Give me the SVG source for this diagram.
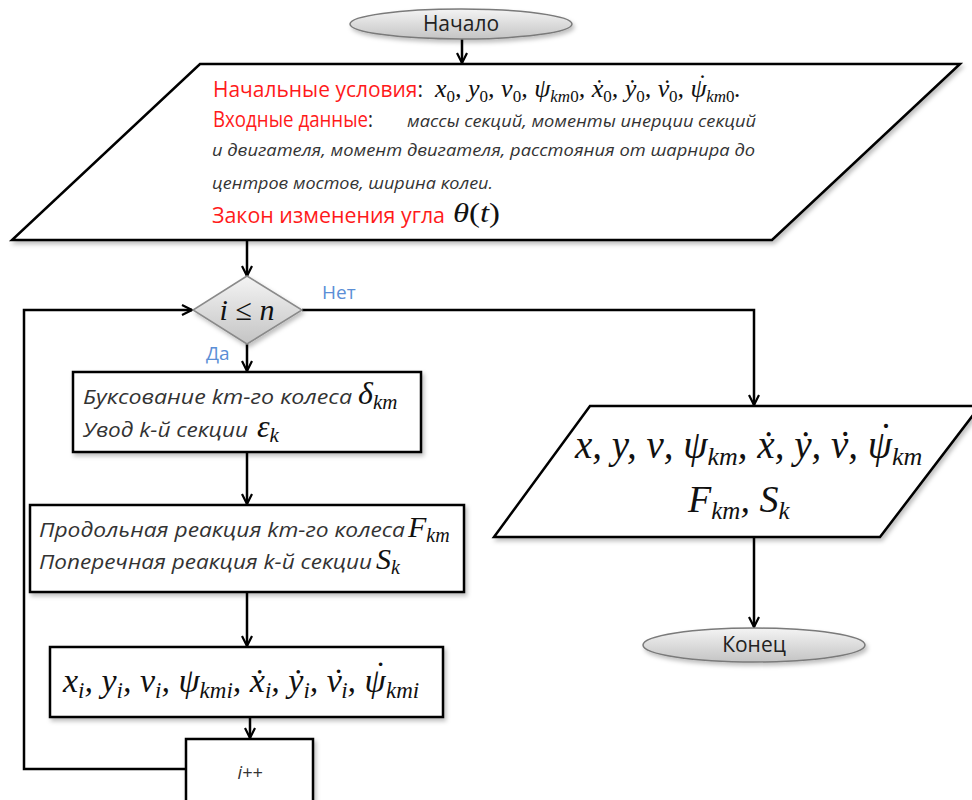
<svg xmlns="http://www.w3.org/2000/svg" width="972" height="800" viewBox="0 0 972 800">
<style>
.ln{fill:none;stroke:#000;stroke-width:2.5}
.bx{fill:#fff;stroke:#000;stroke-width:2.5}
.sans{font-family:"Open Sans","Liberation Sans",sans-serif}
.it{font-family:"Open Sans","Liberation Sans",sans-serif;font-style:italic;fill:#333}
.red{font-family:"Open Sans","Liberation Sans",sans-serif;fill:#ff1a1a}
.m{font-family:"Liberation Serif","DejaVu Serif",serif;font-style:italic;fill:#111}
.d{font-style:normal}
.lbl{font-family:"Open Sans","Liberation Sans",sans-serif;fill:#5b8ed6;font-size:19px}
</style>
<defs>
<marker id="arr" viewBox="0 0 12 12" refX="11" refY="6" markerWidth="12" markerHeight="12" markerUnits="userSpaceOnUse" orient="auto">
<path d="M1,1 L11,6 L1,11" fill="none" stroke="#000" stroke-width="2.2"/>
</marker>
<linearGradient id="gg" x1="0" y1="0" x2="0" y2="1">
<stop offset="0" stop-color="#f4f4f4"/>
<stop offset="1" stop-color="#c4c4c4"/>
</linearGradient>
<filter id="sh" x="-10%" y="-10%" width="130%" height="140%">
<feDropShadow dx="2" dy="3" stdDeviation="2" flood-color="#000" flood-opacity="0.25"/>
</filter>
</defs>

<g id="connectors">
<line class="ln" x1="462" y1="39" x2="462" y2="63" marker-end="url(#arr)"/>
<line class="ln" x1="247" y1="240" x2="247" y2="276" marker-end="url(#arr)"/>
<polyline class="ln" points="302,310 754,310 754,405" marker-end="url(#arr)"/>
<line class="ln" x1="247" y1="344" x2="247" y2="371" marker-end="url(#arr)"/>
<line class="ln" x1="247" y1="452" x2="247" y2="504" marker-end="url(#arr)"/>
<line class="ln" x1="247" y1="592" x2="247" y2="646" marker-end="url(#arr)"/>
<line class="ln" x1="250" y1="717" x2="250" y2="738" marker-end="url(#arr)"/>
<polyline class="ln" points="186,769 24,769 24,310 192,310" marker-end="url(#arr)"/>
<line class="ln" x1="754" y1="537" x2="754" y2="627" marker-end="url(#arr)"/>
<text class="lbl" x="322" y="299">Нет</text>
<text class="lbl" x="206" y="360">Да</text>
</g>

<g id="start">
<ellipse cx="461" cy="24" rx="111" ry="15" fill="url(#gg)" stroke="#7a7a7a" stroke-width="1.5" filter="url(#sh)"/>
<text class="sans" x="461" y="31" font-size="21" text-anchor="middle" fill="#222">Начало</text>
</g>

<g id="input">
<polygon class="bx" points="200,64 960,64 772,240 12,240" filter="url(#sh)"/>
<text class="red" x="213" y="97" font-size="21" textLength="210" lengthAdjust="spacingAndGlyphs">Начальные условия<tspan fill="#222">:</tspan></text>
<text class="m" x="435" y="97" font-size="26">x<tspan class="d" font-size="17" dy="5">0</tspan><tspan dy="-5">, y</tspan><tspan class="d" font-size="17" dy="5">0</tspan><tspan dy="-5">, ν</tspan><tspan class="d" font-size="17" dy="5">0</tspan><tspan dy="-5">, ψ</tspan><tspan font-size="17" dy="5">km</tspan><tspan class="d" font-size="17">0</tspan><tspan dy="-5">, ẋ</tspan><tspan class="d" font-size="17" dy="5">0</tspan><tspan dy="-5">, ẏ</tspan><tspan class="d" font-size="17" dy="5">0</tspan><tspan dy="-5">, ν</tspan><tspan dx="-8">˙</tspan><tspan class="d" font-size="17" dx="-1" dy="5">0</tspan><tspan dy="-5">, ψ</tspan><tspan dx="-10" dy="-5">˙</tspan><tspan font-size="17" dx="1" dy="10">km</tspan><tspan class="d" font-size="17">0</tspan><tspan dy="-5">.</tspan></text>
<text class="red" x="213" y="127" font-size="21" textLength="160" lengthAdjust="spacingAndGlyphs">Входные данные<tspan fill="#222">:</tspan></text>
<text class="it" x="407" y="127" font-size="17" textLength="349" lengthAdjust="spacingAndGlyphs">массы секций, моменты инерции секций</text>
<text class="it" x="212" y="156" font-size="17" textLength="543" lengthAdjust="spacingAndGlyphs">и двигателя, момент двигателя, расстояния от шарнира до</text>
<text class="it" x="212" y="189" font-size="17" textLength="281" lengthAdjust="spacingAndGlyphs">центров мостов, ширина колеи.</text>
<text class="red" x="212" y="223" font-size="22" textLength="233" lengthAdjust="spacingAndGlyphs">Закон изменения угла</text>
<text class="m" x="453" y="222" font-size="27" textLength="47" lengthAdjust="spacingAndGlyphs">θ<tspan class="d">(</tspan>t<tspan class="d">)</tspan></text>
</g>

<g id="decision">
<polygon points="247,276 302,310 247,344 193,310" fill="url(#gg)" stroke="#8a8a8a" stroke-width="1.5" filter="url(#sh)"/>
<text class="m" x="247" y="320" font-size="30" text-anchor="middle">i <tspan class="d">≤</tspan> n</text>
</g>

<g id="slip">
<rect class="bx" x="73" y="372" width="348" height="80" filter="url(#sh)"/>
<text class="it" x="83" y="404" font-size="20" textLength="269" lengthAdjust="spacingAndGlyphs">Буксование km-го колеса</text>
<text class="m" x="358" y="404" font-size="32">δ<tspan font-size="21" dy="5">km</tspan></text>
<text class="it" x="83" y="437" font-size="20" textLength="165" lengthAdjust="spacingAndGlyphs">Увод k-й секции</text>
<text class="m" x="257" y="437" font-size="32">ε<tspan font-size="21" dy="5">k</tspan></text>
</g>

<g id="reactions">
<rect class="bx" x="30" y="505" width="434" height="87" filter="url(#sh)"/>
<text class="it" x="39" y="537" font-size="20" textLength="366" lengthAdjust="spacingAndGlyphs">Продольная реакция km-го колеса</text>
<text class="m" x="408" y="537" font-size="30">F<tspan font-size="20" dy="5">km</tspan></text>
<text class="it" x="39" y="569" font-size="20" textLength="333" lengthAdjust="spacingAndGlyphs">Поперечная реакция k-й секции</text>
<text class="m" x="376" y="569" font-size="30">S<tspan font-size="20" dy="5">k</tspan></text>
</g>

<g id="state">
<rect class="bx" x="50" y="647" width="393" height="70" filter="url(#sh)"/>
<text class="m" x="63" y="692" font-size="34">x<tspan font-size="23" dy="6">i</tspan><tspan dy="-6">, y</tspan><tspan font-size="23" dy="6">i</tspan><tspan dy="-6">, ν</tspan><tspan font-size="23" dy="6">i</tspan><tspan dy="-6">, ψ</tspan><tspan font-size="23" dy="6">kmi</tspan><tspan dy="-6">, ẋ</tspan><tspan font-size="23" dy="6">i</tspan><tspan dy="-6">, ẏ</tspan><tspan font-size="23" dy="6">i</tspan><tspan dy="-6">, ν</tspan><tspan dx="-11">˙</tspan><tspan font-size="23" dx="-1" dy="6">i</tspan><tspan dy="-6">, ψ</tspan><tspan dx="-13" dy="-7">˙</tspan><tspan font-size="23" dx="2" dy="13">kmi</tspan></text>
</g>

<g id="increment">
<rect class="bx" x="186" y="739" width="127" height="75" filter="url(#sh)"/>
<text class="it" x="250" y="779" font-size="18" text-anchor="middle">i++</text>
</g>

<g id="output">
<polygon class="bx" points="590,406 980,406 880,537 494,537" filter="url(#sh)"/>
<text class="m" x="575" y="458" font-size="39">x, y, ν, ψ<tspan font-size="26" dy="7">km</tspan><tspan dy="-7">, ẋ, ẏ, ν</tspan><tspan dx="-12">˙</tspan><tspan dx="-1">, ψ</tspan><tspan dx="-15" dy="-8">˙</tspan><tspan font-size="26" dx="2" dy="15">km</tspan></text>
<text class="m" x="688" y="512" font-size="38">F<tspan font-size="25" dy="7">km</tspan><tspan dy="-7">, S</tspan><tspan font-size="25" dy="7">k</tspan></text>
</g>

<g id="end">
<ellipse cx="754" cy="645" rx="111" ry="17" fill="url(#gg)" stroke="#7a7a7a" stroke-width="1.5" filter="url(#sh)"/>
<text class="sans" x="754" y="652" font-size="21" text-anchor="middle" fill="#222">Конец</text>
</g>
</svg>
